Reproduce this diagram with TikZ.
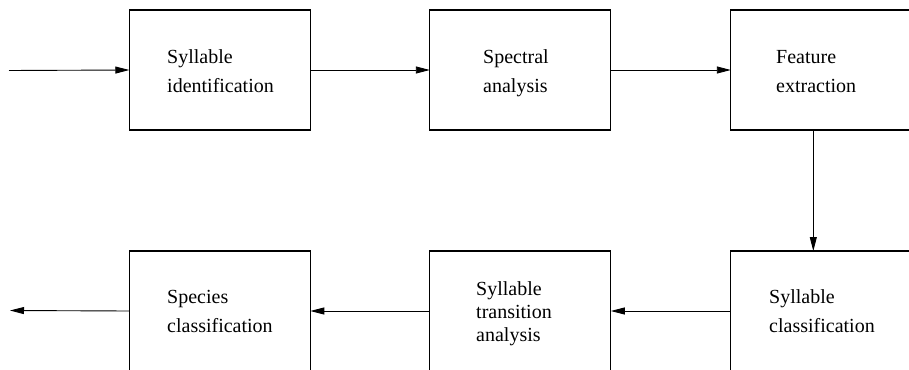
\documentclass[tikz,border=0pt]{standalone}
\usepackage{fontspec}
\setmainfont{Liberation Serif}
\usetikzlibrary{arrows.meta}
\begin{document}
\begin{tikzpicture}[x=1pt,y=-1pt,
  stage/.style={draw, line width=1.2pt, minimum width=181pt, minimum height=120pt,
                inner sep=0pt, outer sep=0pt},
  caption/.style={anchor=base west, align=left, inner sep=0pt,
                  font=\rmfamily\fontsize{20}{29}\selectfont},
  flow/.style={line width=0.9pt, -{Triangle[length=14pt,width=7pt]}}]
\useasboundingbox (0,0) rectangle (909,369);

% processing stages, top row
\node[stage] (si)  at (219.8,70) {};
\node[stage] (sa)  at (520.3,70) {};
\node[stage] (fe)  at (821.3,70) {};
% processing stages, bottom row
\node[stage] (spc) at (219.8,311) {};
\node[stage] (sta) at (520.3,311) {};
\node[stage] (scl) at (821.3,311) {};

% stage captions (anchored at the baseline of their last line)
\node[caption] (tsi)  at (167,92.5)  {Syllable\\identification};
\node[caption] (tsa)  at (483,92.5)  {Spectral\\analysis};
\node[caption] (tfe)  at (776,92.5)  {Feature\\extraction};
\node[caption] (tspc) at (167,332.5) {Species\\classification};
\node[caption, font=\rmfamily\fontsize{20}{23}\selectfont] (tsta) at (476,341)
  {Syllable\\transition\\analysis};
\node[caption] (tscl) at (769,332.5) {Syllable\\classification};

% signal flow
\coordinate (in)   at (9,70.5);
\coordinate (out)  at (10,310.5);
\coordinate (drop) at (813.3,0);
\draw[flow] (in) -- (si.west);
\draw[flow] (si.east) -- (sa.west);
\draw[flow] (sa.east) -- (fe.west);
\draw[flow] (fe.south -| drop) -- (scl.north -| drop);
\draw[flow] (scl.west) -- (sta.east);
\draw[flow] (sta.west) -- (spc.east);
\draw[flow] (spc.west) -- (out);
\end{tikzpicture}
\end{document}
